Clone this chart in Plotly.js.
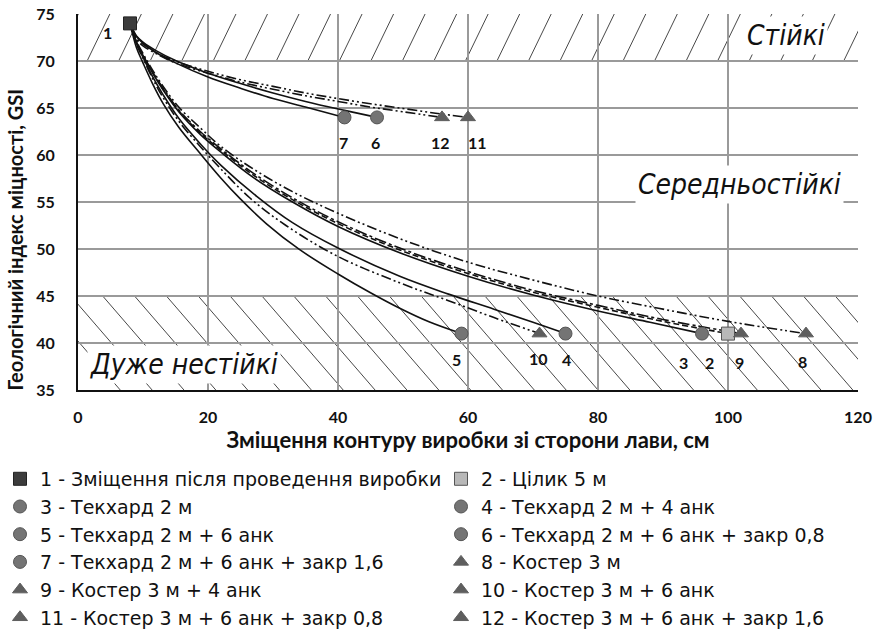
<!DOCTYPE html>
<html>
<head>
<meta charset="utf-8">
<script src="https://cdn.plot.ly/plotly-3.0.1.min.js"></script>
<style>html,body{margin:0;padding:0;background:#fff;}#chart{width:879px;height:632px;}</style>
</head>
<body>
<div id="chart"></div>
<script>
// ---- data ----
const names = [
  "1 - Зміщення після проведення виробки",
  "2 - Цілик 5 м",
  "3 - Текхард 2 м",
  "4 - Текхард 2 м + 4 анк",
  "5 - Текхард 2 м + 6 анк",
  "6 - Текхард 2 м + 6 анк + закр 0,8",
  "7 - Текхард 2 м + 6 анк + закр 1,6",
  "8 - Костер 3 м",
  "9 - Костер 3 м + 4 анк",
  "10 - Костер 3 м + 6 анк",
  "11 - Костер 3 м + 6 анк + закр 0,8",
  "12 - Костер 3 м + 6 анк + закр 1,6"
];
const x1 = [8];
const y1 = [74];
const x2 = [8, 9, 10, 11.5, 13.1, 15.5, 18.8, 22, 27, 33, 40, 49.5, 60, 70, 80, 90, 100];
const y2 = [74, 72.0, 70.6, 68.75, 67.0, 64.7, 62.35, 60.5, 57.85, 55.25, 52.7, 49.9, 47.4, 45.4, 43.8, 42.3, 41];
const x3 = [8, 9, 10, 11.5, 13.1, 15.5, 18.8, 22, 27, 33, 40, 49.5, 60, 70, 80, 88, 96];
const y3 = [74, 72.0, 70.6, 68.7, 66.9, 64.6, 62.2, 60.3, 57.6, 55.0, 52.4, 49.6, 47.1, 45.1, 43.4, 42.2, 41];
const x4 = [8, 9, 10, 11.5, 13.1, 15.5, 18.8, 22, 27.5, 33, 40, 49.5, 57, 64, 70, 75];
const y4 = [74, 71.9, 70.4, 68.3, 66.4, 63.9, 61.2, 58.9, 55.6, 52.8, 50.1, 47.1, 45.2, 43.6, 42.2, 41];
const x5 = [8, 9, 10, 11.5, 13.1, 15.5, 18.8, 22, 24.9, 29, 34, 40, 45, 49.5, 54, 59];
const y5 = [74, 71.4, 69.8, 67.55, 65.47, 62.95, 60.15, 57.53, 55.38, 52.68, 49.98, 47.34, 45.34, 43.69, 42.25, 41];
const x6 = [8, 9, 10, 12, 15, 20, 25, 30, 35, 41, 46];
const y6 = [74, 72.65, 72.0, 71.1, 70.05, 68.7, 67.6, 66.6, 65.7, 64.75, 64];
const x7 = [8, 9, 10, 12, 15, 20, 25, 30, 35, 41];
const y7 = [74, 72.6, 71.9, 70.9, 69.8, 68.3, 67.1, 66.0, 65.1, 64];
const x8 = [8, 9, 10, 11.5, 13.1, 15.5, 18.8, 22, 27, 33, 40, 49.5, 60, 70, 80, 90, 100, 112];
const y8 = [74, 72.1, 70.8, 69.0, 67.3, 65.1, 62.9, 60.9, 58.5, 56.1, 53.8, 51.1, 48.6, 46.7, 45.0, 43.6, 42.3, 41];
const x9 = [8, 9, 10, 11.5, 13.1, 15.5, 18.8, 22, 27, 33, 40, 49.5, 60, 70, 80, 90, 102];
const y9 = [74, 72.05, 70.65, 68.8, 67.1, 64.8, 62.5, 60.65, 58.05, 55.45, 52.9, 50.1, 47.6, 45.6, 44.0, 42.5, 41];
const x10 = [8, 9, 10, 11.5, 13.1, 15.5, 18.8, 22, 26.5, 32, 40, 49.5, 57, 64, 71];
const y10 = [74, 71.8, 70.3, 68.1, 66.1, 63.6, 60.9, 58.5, 55.4, 52.5, 49.2, 46.4, 44.5, 42.7, 41];
const x11 = [8, 9, 10, 12, 15, 20, 25, 30, 35, 40, 45, 50, 55, 60];
const y11 = [74, 72.4, 71.8, 70.9, 70.0, 68.9, 68.0, 67.3, 66.6, 66.0, 65.45, 64.95, 64.45, 64];
const x12 = [8, 9, 10, 12, 15, 20, 25, 30, 35, 40, 45, 50, 56];
const y12 = [74, 72.3, 71.6, 70.8, 69.8, 68.7, 67.75, 67.0, 66.3, 65.7, 65.1, 64.6, 64];
const pointLabels = ["1","2","3","4","5","6","7","8","9","10","11","12"];
const xTicks = [0, 20, 40, 60, 80, 100, 120];
const yTicks = [35, 40, 45, 50, 55, 60, 65, 70, 75];
const zoneNames = ["Стійкі", "Середньостійкі", "Дуже нестійкі"];
const xTitle = "Зміщення контуру виробки зі сторони лави, см";
const yTitle = "Геологічний індекс міцності, GSI";

// ---- styles ----
const XS = [x1,x2,x3,x4,x5,x6,x7,x8,x9,x10,x11,x12];
const YS = [y1,y2,y3,y4,y5,y6,y7,y8,y9,y10,y11,y12];
const DDOT = "10px,3px,2px,3px,2px,3px";
const lineDash = [null, "6px,3px", "solid", "solid", "solid", "solid", "solid", DDOT, "12px,3px,3px,3px", DDOT, DDOT, DDOT];
const symbols = ["square","square","circle","circle","circle","circle","circle","triangle-up","triangle-up","triangle-up","triangle-up","triangle-up"];
const fills = ["#3c3c3c","#b8b8b8","#747474","#747474","#747474","#747474","#747474","#5e5e5e","#5e5e5e","#5e5e5e","#5e5e5e","#5e5e5e"];
const lines = ["#222","#555","#555","#555","#555","#555","#555","#5e5e5e","#5e5e5e","#5e5e5e","#5e5e5e","#5e5e5e"];
// label offsets (in axis units) relative to end point
const labOff = [[-3.5,-1],[-2.8,-3.1],[-2.9,-3.1],[0.2,-2.8],[-0.7,-2.8],[-0.2,-2.7],[-0.1,-2.7],[-0.6,-3.0],[-0.2,-3.1],[-0.1,-2.6],[1.5,-2.7],[-0.3,-2.7]];

const traces = [];
for (let i = 0; i < 12; i++) {
  if (XS[i].length > 1) {
    traces.push({x: XS[i], y: YS[i], type: "scatter", mode: "lines", showlegend: false, hoverinfo: "skip",
      line: {color: "#111", width: 1.6, dash: lineDash[i], shape: "spline", smoothing: 1}});
  }
}
for (let i = 0; i < 12; i++) {
  const n = XS[i].length - 1;
  traces.push({x: [XS[i][n]], y: [YS[i][n]], type: "scatter", mode: "markers", name: names[i],
    legend: (i % 2 === 0) ? "legend" : "legend2", legendgroup: "g" + i,
    marker: {symbol: symbols[i], size: 13, color: fills[i], line: {color: lines[i], width: 1}}});
}

const shapes = [];
// hatch upper band (70-75): "/" lines
const upStep = 4.85, upDx = 3.5;
for (let x0 = 1.4 - 3 * upStep; x0 < 125; x0 += upStep) {
  shapes.push({type: "line", xref: "x", yref: "y", x0: x0, y0: 70, x1: x0 + upDx, y1: 75,
    line: {color: "#333", width: 0.9}, layer: "below"});
}
// hatch lower band (35-45): "\" lines
const loStep = 4.9, loDx = 12.5;
for (let x0 = 23.4 - 6 * loStep; x0 < 125; x0 += loStep) {
  shapes.push({type: "line", xref: "x", yref: "y", x0: x0, y0: 45, x1: x0 + loDx, y1: 35,
    line: {color: "#333", width: 0.9}, layer: "below"});
}

const annotations = [];
for (let i = 0; i < 12; i++) {
  const n = XS[i].length - 1;
  annotations.push({x: XS[i][n] + labOff[i][0], y: YS[i][n] + labOff[i][1], text: pointLabels[i], showarrow: false,
    font: {family: "Lato, Noto Sans, sans-serif", size: 16, color: "#111", weight: 700}});
}
const zoneFont = {family: "Liberation Sans Narrow, DejaVu Sans Condensed, sans-serif", size: 28, color: "#111", style: "italic"};
annotations.push({x: 108.9, y: 72.7, text: zoneNames[0], showarrow: false, bgcolor: "#fff", font: zoneFont, borderpad: 2});
annotations.push({x: 101.8, y: 56.9, text: zoneNames[1], showarrow: false, bgcolor: "#fff", font: zoneFont, borderpad: 2});
annotations.push({x: 16.3, y: 37.7, text: zoneNames[2], showarrow: false, bgcolor: "#fff", font: zoneFont, borderpad: 2});
// y axis title (placed as in the reference, slightly below the plot centre)
annotations.push({xref: "paper", yref: "paper", x: -0.081, y: 0.40, xanchor: "center", yanchor: "middle",
  text: yTitle, textangle: -90, showarrow: false,
  font: {family: "Lato, Noto Sans, sans-serif", size: 20, color: "#111", weight: 700}});

const tickFont = {family: "Lato, Noto Sans, sans-serif", size: 16, color: "#111", weight: 700};
const titleFont = {family: "Lato, Noto Sans, sans-serif", size: 22, color: "#111", weight: 700};
const legFont = {family: "DejaVu Sans, Noto Sans, sans-serif", size: 19, color: "#111"};
const layout = {
  width: 879, height: 632,
  margin: {l: 78, r: 21, t: 14, b: 242, autoexpand: false},
  paper_bgcolor: "#fff", plot_bgcolor: "#fff",
  font: {family: "Lato, Noto Sans, sans-serif"},
  xaxis: {range: [0, 120], tickvals: xTicks, ticktext: xTicks.map(String), showgrid: true, gridcolor: "#9a9a9a", gridwidth: 1.2,
    showline: true, linecolor: "#111", linewidth: 2, zeroline: false, ticks: "", tickfont: tickFont, ticklabelstandoff: 12,
    title: {text: xTitle, font: titleFont, standoff: 4}},
  yaxis: {range: [35, 75], tickvals: yTicks, ticktext: yTicks.map(String), showgrid: true, gridcolor: "#9a9a9a", gridwidth: 1.2,
    showline: true, linecolor: "#111", linewidth: 2, zeroline: false, ticks: "", tickfont: tickFont, ticklabelstandoff: 18},
  showlegend: true,
  legend: {orientation: "v", x: -0.1, xanchor: "left", y: -0.186, yanchor: "top", traceorder: "normal", tracegroupgap: 1.7,
    itemwidth: 30, font: legFont, bgcolor: "rgba(0,0,0,0)", borderwidth: 0},
  legend2: {orientation: "v", x: 0.4654, xanchor: "left", y: -0.186, yanchor: "top", traceorder: "normal", tracegroupgap: 1.7,
    itemwidth: 30, font: legFont, bgcolor: "rgba(0,0,0,0)", borderwidth: 0},
  shapes: shapes,
  annotations: annotations
};
Plotly.newPlot("chart", traces, layout, {displayModeBar: false, staticPlot: true});
</script>
</body>
</html>
